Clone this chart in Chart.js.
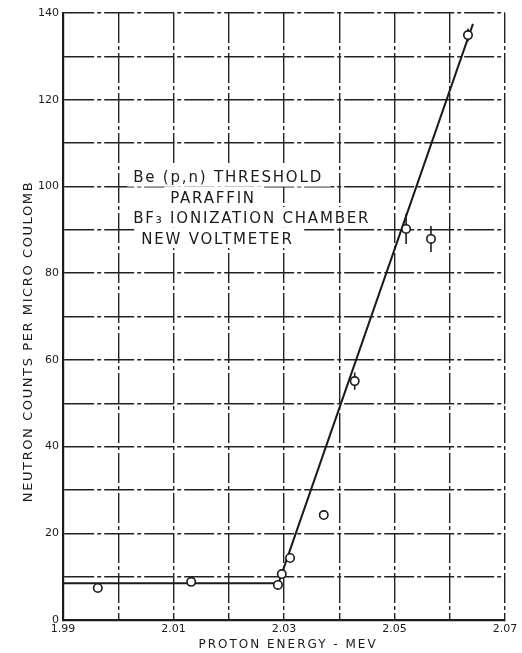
<!DOCTYPE html>
<html><head><meta charset="utf-8">
<script src="https://cdn.jsdelivr.net/npm/chart.js@4.4.1/dist/chart.umd.min.js"></script>
<style>html,body{margin:0;padding:0;background:#fff}canvas{display:block}</style>
</head><body>
<canvas id="c" width="522" height="653"></canvas>
<script>
// ---- data ----
const energy = [1.9963, 2.0132, 2.0289, 2.0296, 2.0311, 2.0372, 2.0428, 2.0521, 2.0566, 2.0633];
const counts = [7.4, 8.8, 8.1, 10.6, 14.3, 24.2, 55.1, 90.2, 87.9, 134.9];
const errors = [0, 0, 0, 0, 0, 1, 2, 3.5, 3, 1.5];
const fitEnergy = [1.99, 2.029, 2.0642];
const fitCounts = [8.5, 8.5, 137.5];
const xTickLabels = [1.99, 2.01, 2.03, 2.05, 2.07];
const yTickLabels = [0, 20, 40, 60, 80, 100, 120, 140];
const noteLines = ['Be (p,n) THRESHOLD', 'PARAFFIN', 'BF\u2083 IONIZATION CHAMBER', 'NEW VOLTMETER'];
const xTitle = 'PROTON ENERGY - MEV';
const yTitle = 'NEUTRON COUNTS PER MICRO COULOMB';

const INK = '#1b1b1b';
const FONT = '"DejaVu Sans", sans-serif';
const near = (v, list) => list.some(t => Math.abs(t - v) < 1e-6);

const errorBars = {
  id: 'errorBars',
  beforeDatasetsDraw(chart) {
    const {ctx, scales: {x, y}} = chart;
    ctx.save();
    ctx.strokeStyle = INK; ctx.lineWidth = 1.6;
    energy.forEach((e, i) => {
      if (!errors[i]) return;
      const px = x.getPixelForValue(e);
      ctx.beginPath();
      ctx.moveTo(px, y.getPixelForValue(counts[i] + errors[i]));
      ctx.lineTo(px, y.getPixelForValue(counts[i] - errors[i]));
      ctx.stroke();
    });
    ctx.restore();
  }
};

const note = {
  id: 'note',
  beforeDatasetsDraw(chart, args, opts) {
    const {ctx, scales: {x, y}} = chart;
    const x0 = x.getPixelForValue(opts.at[0]);
    const y0 = y.getPixelForValue(opts.at[1]);
    ctx.save();
    ctx.font = opts.size + 'px ' + FONT;
    ctx.letterSpacing = opts.spacing + 'px';
    ctx.textBaseline = 'alphabetic';
    noteLines.forEach((t, i) => {
      const lx = x0 + opts.indent[i];
      const ly = y0 + i * opts.lineGap;
      const w = ctx.measureText(t).width;
      ctx.fillStyle = '#fff';
      ctx.fillRect(lx - 6, ly - opts.size - 1, w + 14, opts.lineGap);
    });
    ctx.fillStyle = INK;
    noteLines.forEach((t, i) => {
      ctx.fillText(t, x0 + opts.indent[i], y0 + i * opts.lineGap);
    });
    ctx.restore();
  }
};

const titles = {
  id: 'titles',
  afterDraw(chart) {
    const {ctx, chartArea: a} = chart;
    ctx.save();
    ctx.fillStyle = INK;
    ctx.textAlign = 'center';
    ctx.textBaseline = 'middle';
    ctx.font = '12px ' + FONT;
    ctx.letterSpacing = '2px';
    ctx.fillText(xTitle, (a.left + a.right) / 2 + 4, chart.height - 8);
    ctx.translate(29, (a.top + a.bottom) / 2 + 25);
    ctx.rotate(-Math.PI / 2);
    ctx.font = '13px ' + FONT;
    ctx.letterSpacing = '1.6px';
    ctx.fillText(yTitle, 0, 0);
    ctx.restore();
  }
};

const gridOpts = {color: '#222', lineWidth: 1.4, drawTicks: false};
const borderOpts = {display: true, color: INK, width: 2.2, dash: [30, 3, 4, 3]};

new Chart(document.getElementById('c'), {
  type: 'scatter',
  data: {
    datasets: [
      {
        data: energy.map((e, i) => ({x: e, y: counts[i]})),
        pointRadius: 4.2, pointBorderWidth: 1.6,
        pointBorderColor: INK, pointBackgroundColor: '#fff', showLine: false
      },
      {
        data: fitEnergy.map((e, i) => ({x: e, y: fitCounts[i]})),
        showLine: true, borderColor: INK, borderWidth: 2, pointRadius: 0, fill: false
      }
    ]
  },
  options: {
    responsive: false, animation: false,
    layout: {padding: {top: 13, right: 17, left: 0, bottom: 0}},
    plugins: {
      legend: {display: false}, tooltip: {enabled: false},
      note: {at: [2.0027, 101], indent: [0, 37, 0, 8], lineGap: 20.5, size: 15, spacing: 1.8}
    },
    scales: {
      x: {
        type: 'linear', min: 1.99, max: 2.07,
        afterFit: s => { s.height = 33; },
        grid: gridOpts, border: borderOpts,
        ticks: {
          stepSize: 0.01, autoSkip: false, maxRotation: 0, padding: 3,
          color: INK, font: {family: FONT, size: 11},
          callback: v => near(v, xTickLabels) ? v.toFixed(2) : ''
        }
      },
      y: {
        min: 0, max: 140,
        afterFit: s => { s.width = 63; },
        grid: gridOpts, border: borderOpts,
        ticks: {
          stepSize: 10, autoSkip: false, padding: 4,
          color: INK, font: {family: FONT, size: 11},
          callback: v => near(v, yTickLabels) ? String(v) : ''
        }
      }
    }
  },
  plugins: [errorBars, note, titles]
});
</script>
</body></html>
